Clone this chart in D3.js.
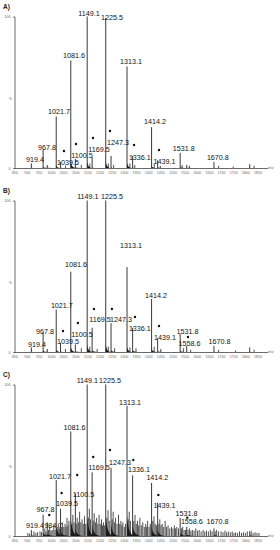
<!DOCTYPE html>
<html>
<head>
<meta charset="utf-8">
<script src="https://cdn.jsdelivr.net/npm/d3@7/dist/d3.min.js"></script>
<style>
  body { margin: 0; background: #fff; }
  text { font-family: "Liberation Sans", Arial, sans-serif; }
</style>
</head>
<body>
<div id="chart"></div>
<script>

/////////// Data ///////////

var xTicks = [850, 900, 950, 1000, 1050, 1100, 1150, 1200, 1250, 1300, 1350,
              1400, 1450, 1500, 1550, 1600, 1650, 1700, 1750, 1800, 1850];
var yTicks = [0, 100];

// [m/z, relative intensity]
var peaksA = [[919.4, 3], [967.8, 12], [984.7, 2], [1021.7, 34], [1039.5, 4], [1081.6, 71],
  [1100.5, 6], [1149.1, 100], [1169.5, 7], [1225.5, 99], [1247.3, 8], [1313.1, 67],
  [1336.1, 8], [1414.2, 27], [1439.1, 5], [1531.8, 10], [1558.6, 2], [1670.8, 4], [1818, 2.5]];
var minorA = [[1060, 1.5], [1125, 2], [1160, 3], [1236, 3], [1258, 2], [1325, 3], [1345, 2],
  [1425, 3], [1450, 1.5], [1540, 2], [1570, 1.5], [1690, 1.5], [1750, 1], [1836, 1.5]];
// [text, m/z of label centre, intensity at label baseline]
var labelsA = [['919.4', 934, 4], ['967.8', 984, 12], ['1021.7', 1033, 35.6], ['1039.5', 1070, 2],
  ['1081.6', 1095, 72.6], ['1100.5', 1128, 6.6], ['1149.1', 1157, 100.3], ['1169.5', 1198, 10.6],
  ['1225.5', 1251, 97.7], ['1247.3', 1276, 15.2], ['1313.1', 1329, 68.6], ['1336.1', 1366, 5.3],
  ['1414.2', 1428, 29], ['1439.1', 1467, 2.6], ['1531.8', 1547, 11.2], ['1670.8', 1687, 5.3]];
var starsA = [[1053.7, 11.2], [1103, 15.8], [1173, 19.8], [1243, 24.4], [1342, 15.2], [1444.7, 11.9]];

var peaksB = [[919.4, 3], [967.8, 13], [984.7, 2], [1021.7, 28], [1039.5, 6], [1081.6, 53],
  [1100.5, 5], [1149.1, 100], [1169.5, 16], [1225.5, 100], [1247.3, 19], [1313.1, 56],
  [1336.1, 16], [1414.2, 35], [1439.1, 9], [1531.8, 12], [1558.6, 4], [1670.8, 4], [1818, 3]];
var minorB = [[1060, 2], [1125, 2.5], [1160, 3.5], [1190, 2], [1236, 3.5], [1262, 2.5], [1325, 3],
  [1350, 2.5], [1425, 3.5], [1452, 2], [1545, 2.5], [1575, 1.5], [1690, 1.5], [1760, 1], [1836, 1.5]];
var labelsB = [['919.4', 942.6, 3.3], ['967.8', 975.5, 11.9], ['1021.7', 1045, 29], ['1039.5', 1070, 5],
  ['1081.6', 1103, 56.1], ['1100.5', 1128, 9.6], ['1149.1', 1152, 101], ['1169.5', 1202, 19.8],
  ['1225.5', 1251, 101], ['1247.3', 1288, 19.8], ['1313.1', 1329, 68.6], ['1336.1', 1366, 13.9],
  ['1414.2', 1432, 35.6], ['1439.1', 1469, 7.9], ['1531.8', 1562, 11.9], ['1558.6', 1570, 4],
  ['1670.8', 1694, 5.3]];
var starsB = [[1049.6, 13.9], [1111, 19.1], [1177, 28.4], [1251, 28.4], [1346, 23.1], [1444.7, 17.2], [1564, 9.9]];

var peaksC = [[919.4, 4], [967.8, 14], [984.7, 9], [1021.7, 37], [1039.5, 18], [1081.6, 69],
  [1100.5, 28], [1149.1, 100], [1169.5, 42], [1225.5, 100], [1247.3, 45], [1313.1, 86],
  [1336.1, 40], [1414.2, 35], [1439.1, 22], [1531.8, 12], [1558.6, 6], [1670.8, 5], [1818, 3]];
var minorC = [[905, 2], [912, 1.5], [930, 3], [938, 2], [945, 2.5], [955, 3], [961, 2.5], [975, 5],
  [980, 3], [990, 4], [995, 6], [1000, 3.5], [1005, 4], [1012, 7], [1017, 4], [1026, 5], [1030, 8],
  [1035, 5], [1044, 6], [1048, 9], [1053, 6], [1058, 8], [1062, 6], [1066, 12], [1070, 7], [1074, 10],
  [1086, 8], [1090, 14], [1095, 9], [1104, 8], [1108, 12], [1113, 9], [1118, 16], [1123, 9], [1128, 11],
  [1133, 8], [1138, 13], [1143, 8], [1154, 12], [1158, 18], [1163, 11], [1174, 10], [1178, 15],
  [1183, 9], [1188, 12], [1193, 8], [1198, 14], [1203, 8], [1208, 11], [1212, 7], [1216, 9],
  [1220, 7], [1230, 12], [1235, 17], [1240, 10], [1252, 11], [1256, 16], [1261, 9], [1266, 12],
  [1272, 8], [1278, 14], [1283, 8], [1288, 10], [1292, 7], [1296, 9], [1302, 6], [1307, 8],
  [1318, 11], [1322, 16], [1327, 10], [1341, 10], [1346, 14], [1351, 8], [1356, 10], [1361, 7],
  [1366, 12], [1372, 7], [1378, 9], [1384, 6], [1390, 8], [1394, 6], [1398, 10], [1404, 6],
  [1409, 8], [1419, 10], [1424, 13], [1429, 8], [1434, 7], [1444, 8], [1448, 11], [1453, 7],
  [1458, 8], [1464, 6], [1470, 10], [1476, 6], [1482, 7], [1489, 5], [1496, 6], [1502, 5],
  [1508, 7], [1513, 5], [1518, 6], [1525, 5], [1537, 5], [1542, 6], [1548, 4], [1554, 4],
  [1564, 4], [1570, 5], [1576, 3.5], [1582, 4], [1589, 3.5], [1596, 5], [1603, 3.5], [1610, 4],
  [1618, 3], [1626, 4], [1633, 3], [1640, 3.5], [1648, 3], [1656, 4], [1663, 3], [1676, 3],
  [1682, 4], [1690, 3], [1700, 3], [1708, 2.5], [1716, 3.5], [1723, 2.5], [1730, 3], [1738, 2.5],
  [1746, 3], [1753, 2], [1760, 2.5], [1768, 2], [1776, 3], [1784, 2], [1792, 2.5], [1800, 2],
  [1808, 3], [1824, 3.5], [1832, 2], [1840, 2.5], [1848, 2], [1856, 2]];
var labelsC = [['919.4', 934, 5], ['984.7', 1010, 5], ['967.8', 977.6, 15.8], ['1021.7', 1037.7, 37.6],
  ['1039.5', 1066, 19.8], ['1081.6', 1097, 70], ['1100.5', 1134, 25.7], ['1149.1', 1150, 101],
  ['1169.5', 1198, 43.6], ['1225.5', 1243, 101], ['1247.3', 1284, 46.9], ['1313.1', 1325, 86.5],
  ['1336.1', 1362, 42.2], ['1414.2', 1438, 37], ['1439.1', 1467, 18.5], ['1531.8', 1558, 13.2],
  ['1558.6', 1580, 7.6], ['1670.8', 1685, 7.6]];
var starsC = [[993, 13.9], [1044, 28.4], [1108, 40.3], [1174, 52.1], [1243, 56.8], [1339, 50.2], [1442, 27.1], [1561, 12.1]];

var panels = [
  {name: 'A)', peaks: peaksA, minor: minorA, labels: labelsA, stars: starsA, base: 168, tail: 0.05, tailMax: 4, tailW: 5},
  {name: 'B)', peaks: peaksB, minor: minorB, labels: labelsB, stars: starsB, base: 352, tail: 0.06, tailMax: 5, tailW: 5},
  {name: 'C)', peaks: peaksC, minor: minorC, labels: labelsC, stars: starsC, base: 536, tail: 0.18, tailMax: 14, tailW: 8}
];

/////////// Drawing ///////////

var svg = d3.select('#chart').append('svg')
  .attr('width', 280)
  .attr('height', 550);

var x = d3.scaleLinear().domain([850, 1890]).range([14.5, 267.2]);

panels.forEach(function(p) {
  var y = d3.scaleLinear().domain([0, 100]).range([p.base, p.base - 151.5]);
  var g = svg.append('g');

  // panel letter
  g.append('text')
    .attr('x', 3).attr('y', p.base - 159.5)
    .attr('font-size', 6.5).attr('font-weight', 'bold').attr('fill', '#222')
    .text(p.name);

  // small background peaks
  g.selectAll('line.minor')
    .data(p.minor)
    .enter().append('line')
      .attr('x1', function(d) { return x(d[0]); })
      .attr('x2', function(d) { return x(d[0]); })
      .attr('y1', y(0))
      .attr('y2', function(d) { return y(d[1]); })
      .attr('stroke', '#222').attr('stroke-width', 0.8);

  // tails at the foot of each peak
  g.selectAll('path.tail')
    .data(p.peaks)
    .enter().append('path')
      .attr('d', function(d) {
        var x0 = x(d[0]), h = Math.min(d[1] * p.tail, p.tailMax);
        return 'M' + x0 + ',' + y(h) + 'Q' + (x0 + 1) + ',' + y(0) + ' ' + (x0 + p.tailW) + ',' + y(0) +
               'L' + x0 + ',' + y(0) + 'Z';
      })
      .attr('fill', '#1a1a1a');

  // main peaks
  g.selectAll('line.peak')
    .data(p.peaks)
    .enter().append('line')
      .attr('x1', function(d) { return x(d[0]); })
      .attr('x2', function(d) { return x(d[0]); })
      .attr('y1', y(0))
      .attr('y2', function(d) { return y(d[1]); })
      .attr('stroke', '#222').attr('stroke-width', 0.9);

  // axes
  var xAxis = g.append('g')
    .attr('transform', 'translate(0,' + p.base + ')')
    .call(d3.axisBottom(x).tickValues(xTicks).tickSize(1).tickFormat(d3.format('d')));
  xAxis.selectAll('text').attr('font-size', 3.6).attr('fill', '#666').attr('dy', '0.5em');

  var yAxis = g.append('g')
    .attr('transform', 'translate(' + x(850) + ',0)')
    .call(d3.axisLeft(y).tickValues(yTicks).tickSize(1));
  yAxis.selectAll('text').attr('font-size', 3.6).attr('fill', '#666');

  g.selectAll('.domain').attr('stroke', '#444').attr('stroke-width', 0.8);
  g.selectAll('.tick line').attr('stroke', '#666').attr('stroke-width', 0.5);

  g.append('text')
    .attr('x', 12).attr('y', y(45))
    .attr('font-size', 3.6).attr('fill', '#666').attr('text-anchor', 'end')
    .text('%');

  g.append('text')
    .attr('x', 268).attr('y', p.base + 1.2)
    .attr('font-size', 3.6).attr('fill', '#666')
    .text('m/z');

  // peak labels
  g.selectAll('text.lab')
    .data(p.labels)
    .enter().append('text')
      .attr('x', function(d) { return x(d[1]); })
      .attr('y', function(d) { return y(d[2]); })
      .attr('text-anchor', 'middle')
      .attr('font-size', 7.2)
      .attr('fill', '#111')
      .text(function(d) { return d[0]; });

  // asterisks
  g.selectAll('circle.star')
    .data(p.stars)
    .enter().append('circle')
      .attr('cx', function(d) { return x(d[0]); })
      .attr('cy', function(d) { return y(d[1]); })
      .attr('r', 1.2)
      .attr('fill', '#111');
});

</script>
</body>
</html>
